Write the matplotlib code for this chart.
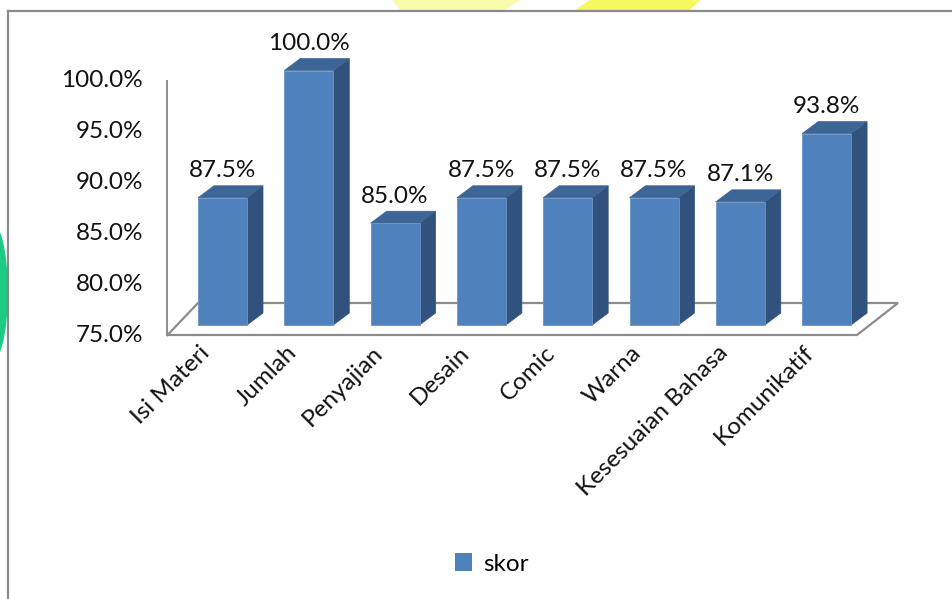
import matplotlib
matplotlib.use("Agg")
import matplotlib.pyplot as plt
from matplotlib.patches import Polygon, Patch, Ellipse
import numpy as np

categories = ["Isi Materi", "Jumlah", "Penyajian", "Desain", "Comic", "Warna",
              "Kesesuaian Bahasa", "Komunikatif"]
skor = [87.5, 100.0, 85.0, 87.5, 87.5, 87.5, 87.1, 93.8]
yticks = [75.0, 80.0, 85.0, 90.0, 95.0, 100.0]
series_name = "skor"

FONT = ["Lato", "DejaVu Sans"]
plt.rcParams["font.family"] = FONT
FS = 17.5

W, H = 952, 599
fig = plt.figure(figsize=(W / 100, H / 100), dpi=100)
ax = fig.add_axes([0, 0, 1, 1])

# scale: 1 category = 86.3 px, 1 percent = 10.18 px
XPX, YPX = 86.3, 10.18
X0PX, Y75PX = 222.5, 325
ax.set_xlim((0 - X0PX) / XPX, (W - X0PX) / XPX)
ax.set_ylim(75 - (H - Y75PX) / YPX, 75 + Y75PX / YPX)
ax.axis("off")

base = 75.0
bw = 49 / XPX          # bar width
ddx = 16 / XPX         # depth x
ddy = 12 / YPX         # depth y
off = 10 / YPX         # axis offset (front of floor below bars)

front_col = "#4F81BD"
side_col = "#31527D"
top_col = "#3D6596"
grid_col = "#8C8C8C"

# frame of chart area (decorative background)
tr = ax.transAxes
ax.plot([8 / W, 1.0], [1 - 11 / H, 1 - 11 / H], transform=tr, color="#8A8A8A", lw=1.6, clip_on=False)
ax.plot([8 / W, 8 / W], [1 - 11 / H, 0], transform=tr, color="#8A8A8A", lw=1.6, clip_on=False)
# watermark fragments
ax.add_patch(Polygon([(392 / W, 1), (520 / W, 1), (505 / W, 1 - 10 / H), (400 / W, 1 - 10 / H)],
                     closed=True, transform=tr, facecolor="#FBFB9A", edgecolor="none", alpha=0.8))
ax.add_patch(Polygon([(575 / W, 1 - 10 / H), (590 / W, 1), (700 / W, 1), (690 / W, 1 - 10 / H)],
                     closed=True, transform=tr, facecolor="#F7F760", edgecolor="none"))
ax.add_patch(Ellipse((-10 / W, 1 - 292 / H), 36 / W, 145 / H, transform=tr,
                     facecolor="#1CCB84", edgecolor="none", clip_on=True))

# floor
x_fl = (167.5 - X0PX) / XPX
x_fr = (857 - X0PX) / XPX
x_br = (898 - X0PX) / XPX
x_bl = (198 - X0PX) / XPX
y_front = base - off
y_back = base + 22 / YPX
ax.plot([x_fl, x_fr, x_br, x_bl, x_fl], [y_front, y_front, y_back, y_back, y_front],
        color=grid_col, lw=1.6, solid_joinstyle="miter", zorder=1)
# vertical axis line
ax.plot([x_fl, x_fl], [yticks[0] - off, yticks[-1] - off], color=grid_col, lw=1.4, zorder=1)
for t in yticks:
    ax.text((143 - X0PX) / XPX, t - off, f"{t:.1f}%", ha="right", va="center",
            fontsize=FS, color="#111111")

# bars
xs = np.arange(len(categories))
ax.bar(xs, np.array(skor) - base, bottom=base, width=bw, color=front_col,
       edgecolor="#6C94C6", linewidth=0.6, zorder=3)
for x, v in zip(xs, skor):
    l, r = x - bw / 2, x + bw / 2
    side = Polygon([(r, base), (r + ddx, base + ddy), (r + ddx, v + ddy), (r, v)],
                   closed=True, facecolor=side_col, edgecolor=side_col, lw=0.5, zorder=2)
    top = Polygon([(l, v), (r, v), (r + ddx, v + ddy), (l + ddx, v + ddy)],
                  closed=True, facecolor=top_col, edgecolor=top_col, lw=0.5, zorder=2)
    ax.add_patch(side)
    ax.add_patch(top)
    ax.text(x, v + ddy + 0.45, f"{v:.1f}%", ha="center", va="bottom", fontsize=FS,
            color="#111111")

# category labels
for x, c in zip(xs, categories):
    ax.text(x - 0.27, base - 17 / YPX, c, rotation=45, rotation_mode="anchor",
            ha="right", va="top", fontsize=FS, color="#111111")

# legend
leg = fig.legend(handles=[Patch(facecolor=front_col, edgecolor="none", label=series_name)],
                 loc="center", bbox_to_anchor=(492 / W, 1 - 564 / H), frameon=False,
                 fontsize=FS, handlelength=0.7, handleheight=0.7, handletextpad=0.45)

fig.savefig("out.png", dpi=100, facecolor="white")
